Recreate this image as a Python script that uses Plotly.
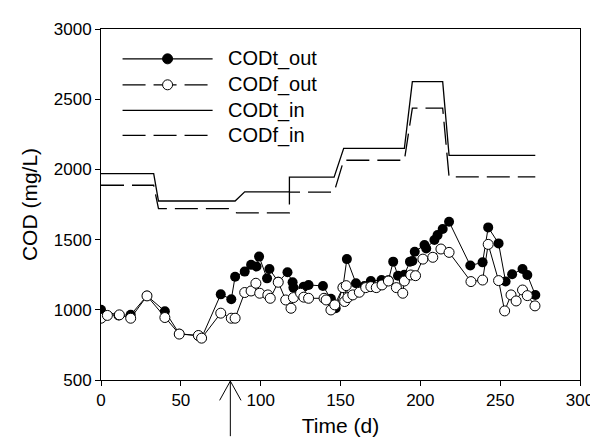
import plotly.graph_objects as go

# effluent total COD (filled circles)
days_t = [0, 11, 18.6, 28.8, 40, 49, 61, 63, 75, 81.6, 84, 90, 94, 97.4, 99, 104,
          105.5, 111, 116.8, 120, 120.5, 127, 130, 139, 144, 147, 151.5, 154, 159.7,
          165, 169, 175.7, 180, 183, 186, 190, 193.5, 195, 196.5, 202.6, 203.7, 208.8,
          210.8, 214, 218, 231.3, 239, 242.5, 249, 253.4, 257.5, 264, 267, 272]
codt_out = [1000, 960, 964, 1100, 990, 830, 815, 800, 1110, 1075, 1236, 1272, 1320, 1308,
            1379, 1224, 1290, 1200, 1267, 1196, 1158, 1165, 1177, 1170, 1078, 1011, 1160,
            1361, 1189, 1170, 1205, 1212, 1210, 1343, 1243, 1250, 1343, 1347, 1414, 1461,
            1437, 1497, 1532, 1575, 1627, 1315, 1338, 1587, 1473, 1201, 1253, 1290, 1248,
            1106]

# effluent filtered COD (open circles)
days_f = [0, 4, 11.5, 18.6, 28.8, 40, 49, 61, 63, 75, 81.6, 84, 90, 94, 97, 99.4, 104.5,
          106, 111, 115.7, 119, 120.5, 125, 127, 130, 139.7, 141, 144, 146.4, 151.5, 152.6,
          153.6, 154.6, 157.7, 161.8, 165.8, 169, 172.4, 176, 180, 185, 189, 190, 194, 197,
          201.6, 207.8, 212.9, 218, 231.7, 239, 242.5, 249, 252.8, 256.8, 260, 264, 267,
          271.8]
codf_out = [940, 960, 964, 940, 1099, 945, 827, 817, 798, 976, 940, 940, 1123, 1134, 1189,
            1118, 1106, 1082, 1196, 1070, 1011, 1087, 1118, 1090, 1082, 1082, 1070, 999,
            1035, 1158, 1059, 1172, 1087, 1106, 1125, 1158, 1165, 1158, 1177, 1205, 1158,
            1118, 1205, 1248, 1243, 1361, 1374, 1433, 1409, 1201, 1212, 1466, 1208, 992,
            1106, 1063, 1141, 1101, 1028]

# influent total / filtered COD
days_tin = [0, 33, 36, 84, 90, 118, 118, 146, 152, 190, 195, 214, 218, 272]
codt_in = [1970, 1970, 1775, 1775, 1840, 1840, 1945, 1945, 2150, 2150, 2625, 2625, 2100, 2100]
days_fin = [0, 33, 36, 80, 85, 118, 118, 146, 152, 190, 195, 214, 218, 272]
codf_in = [1887, 1887, 1720, 1720, 1690, 1690, 1838, 1838, 2065, 2065, 2437, 2437, 1947, 1947]

legend_names = ["CODt_out", "CODf_out", "CODt_in", "CODf_in"]
arrow_day = 81

FONT = "Arial, Liberation Sans, sans-serif"
DASH = "23px,8px"

fig = go.Figure()
fig.add_trace(go.Scatter(x=days_tin, y=codt_in, mode="lines",
                         line=dict(color="black", width=1.3)))
fig.add_trace(go.Scatter(x=days_fin, y=codf_in, mode="lines",
                         line=dict(color="black", width=1.3, dash=DASH)))
fig.add_trace(go.Scatter(x=days_t, y=codt_out, mode="lines+markers",
                         line=dict(color="black", width=1),
                         marker=dict(size=10, color="black")))
fig.add_trace(go.Scatter(x=days_f, y=codf_out, mode="lines+markers",
                         line=dict(color="black", width=1),
                         marker=dict(size=10, color="white",
                                     line=dict(color="black", width=1))))

# legend drawn by hand so the sample lines are long like the original
shapes = []
annotations = []
row_y = [0.915, 0.841, 0.768, 0.697]
for i, name in enumerate(legend_names):
    dash = "solid" if i % 2 == 0 else DASH
    shapes.append(dict(type="line", xref="paper", yref="paper",
                       x0=0.045, x1=0.233, y0=row_y[i], y1=row_y[i],
                       line=dict(color="black", width=1.3, dash=dash)))
    if i < 2:
        shapes.append(dict(type="circle", xref="paper", yref="paper",
                           xsizemode="pixel", ysizemode="pixel",
                           xanchor=0.139, yanchor=row_y[i],
                           x0=-5, x1=5, y0=-5, y1=5,
                           fillcolor="black" if i == 0 else "white",
                           line=dict(color="black", width=1)))
    annotations.append(dict(xref="paper", yref="paper", x=0.26, y=row_y[i],
                            text=name, showarrow=False, xanchor="left",
                            yanchor="middle", font=dict(size=20, color="black")))

# arrow under the time axis
shapes.append(dict(type="line", xref="x", yref="paper", x0=arrow_day, x1=arrow_day,
                   y0=-0.003, y1=-0.16, line=dict(color="black", width=1)))
for side in (-6.7, 6.7):
    shapes.append(dict(type="line", xref="x", yref="paper", x0=arrow_day,
                       x1=arrow_day + side, y0=-0.003, y1=-0.058,
                       line=dict(color="black", width=1)))

axis_style = dict(showline=True, linecolor="black", linewidth=1, mirror=True,
                  ticks="outside", ticklen=5, tickcolor="black", showgrid=False,
                  zeroline=False, tickfont=dict(size=17, color="black"))

fig.update_layout(
    width=598, height=438,
    margin=dict(l=93, r=16, t=20, b=66),
    plot_bgcolor="white", paper_bgcolor="white",
    font=dict(family=FONT, color="black"),
    showlegend=False,
    shapes=shapes,
    annotations=annotations,
    xaxis=dict(range=[0, 300], dtick=50,
               title=dict(text="Time (d)", font=dict(size=21), standoff=8),
               **axis_style),
    yaxis=dict(range=[500, 3000], dtick=500,
               title=dict(text="COD (mg/L)", font=dict(size=21), standoff=10),
               **axis_style),
)

fig.write_html("out.html")
